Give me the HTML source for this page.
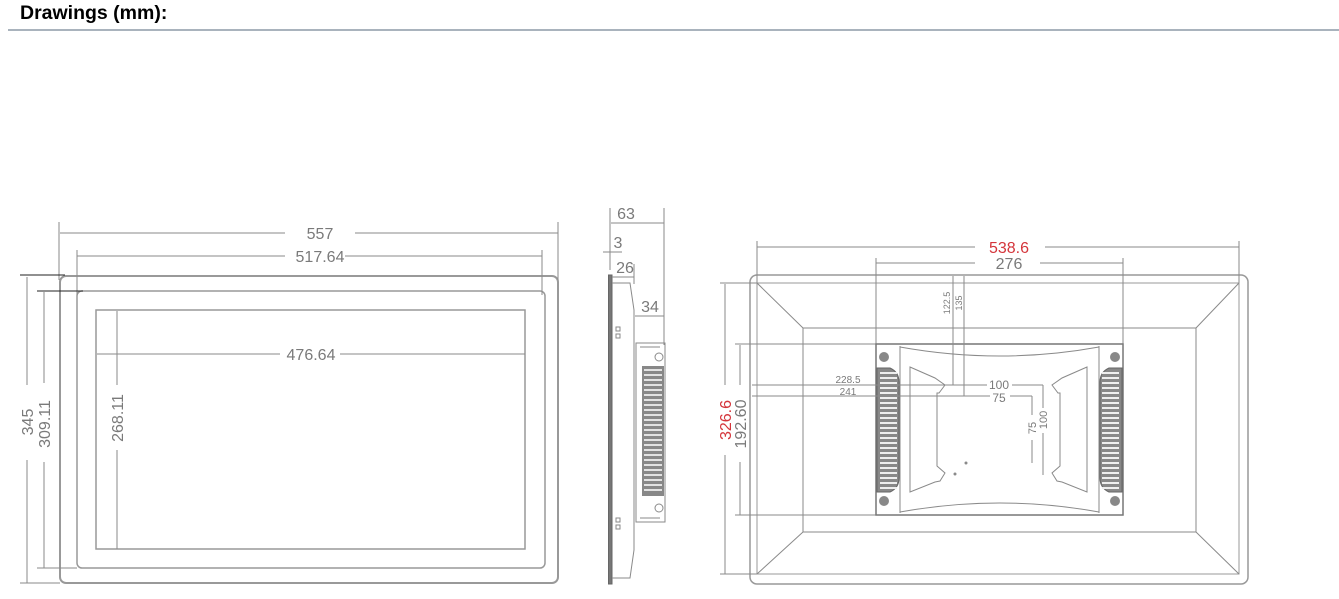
<!DOCTYPE html>
<html><head><meta charset="utf-8"><style>
body{margin:0;background:#fff;width:1339px;height:599px;overflow:hidden;font-family:"Liberation Sans",sans-serif}
.h{position:absolute;left:20px;top:2px;font-weight:bold;font-size:19.5px;line-height:22px;color:#000}
.hl{position:absolute;left:8px;right:0;top:29px;height:2px;background:#a9b3bd}
svg{position:absolute;left:0;top:0}
text{font-family:"Liberation Sans",sans-serif;fill:#7a7a7a}
</style></head><body>
<div class="h">Drawings (mm):</div><div class="hl"></div>
<svg width="1339" height="599" viewBox="0 0 1339 599">
<g stroke="#8a8a8a" stroke-width="1" fill="none">
<rect x="60" y="276" width="498" height="307" rx="6" stroke-width="2" stroke="#999"/>
<rect x="77" y="291" width="468" height="277" rx="5" stroke-width="1.5" stroke="#999"/>
<rect x="96" y="310" width="429" height="239" stroke-width="1.5" stroke="#999"/>
<line x1="59" y1="222" x2="59" y2="280"/><line x1="558" y1="222" x2="558" y2="280"/>
<line x1="60" y1="233" x2="285" y2="233"/><line x1="355" y1="233" x2="558" y2="233"/>
<line x1="77" y1="250" x2="77" y2="295"/><line x1="542" y1="250" x2="542" y2="295"/>
<line x1="77" y1="256" x2="285" y2="256"/><line x1="345" y1="256" x2="542" y2="256"/>
<line x1="97" y1="354" x2="280" y2="354"/><line x1="340" y1="354" x2="525" y2="354"/>
<line x1="117" y1="311" x2="117" y2="385"/><line x1="117" y1="450" x2="117" y2="549"/>
<line x1="27" y1="277" x2="27" y2="385"/><line x1="27" y1="460" x2="27" y2="583"/>
<line x1="44" y1="292" x2="44" y2="383"/><line x1="44" y1="462" x2="44" y2="568"/>
<line x1="20" y1="275" x2="65" y2="275" stroke="#222"/>
<line x1="37" y1="291" x2="83" y2="291" stroke="#222"/>
<line x1="20" y1="583" x2="60" y2="583"/><line x1="37" y1="568" x2="77" y2="568"/>
<rect x="608.5" y="275" width="3.5" height="309" fill="#777" stroke="#666"/>
<path d="M612 283 L630 283 L634 310 L634 550 L630 578 L612 578"/>
<line x1="610" y1="208" x2="610" y2="270"/><line x1="664" y1="208" x2="664" y2="345"/>
<line x1="611" y1="223" x2="664" y2="223"/>
<line x1="603" y1="252" x2="622" y2="252"/>
<line x1="612" y1="277" x2="634" y2="277"/><line x1="634" y1="264" x2="634" y2="284"/>
<line x1="635" y1="316" x2="664" y2="316"/>
<path d="M636 343 L665 343 L665 522 L636 522 Z"/>
<path d="M640 347 L660 347 M640 518 L660 518"/>
<circle cx="659" cy="357" r="4"/><circle cx="659" cy="508" r="4"/>
<rect x="616" y="327" width="4" height="4"/><rect x="616" y="334" width="4" height="4"/>
<rect x="616" y="518" width="4" height="4"/><rect x="616" y="525" width="4" height="4"/>
<rect x="750" y="275" width="498" height="309" rx="7" stroke-width="1.5" stroke="#999"/>
<rect x="757" y="283" width="482" height="291" stroke="#999"/>
<rect x="803" y="328" width="393" height="204"/>
<line x1="757" y1="283" x2="803" y2="328"/><line x1="1239" y1="283" x2="1196" y2="328"/>
<line x1="757" y1="574" x2="803" y2="532"/><line x1="1239" y1="574" x2="1196" y2="532"/>
<line x1="757" y1="241" x2="757" y2="283"/><line x1="1239" y1="241" x2="1239" y2="283"/>
<line x1="757" y1="247" x2="975" y2="247"/><line x1="1045" y1="247" x2="1239" y2="247"/>
<line x1="876" y1="258" x2="876" y2="515"/><line x1="1123" y1="258" x2="1123" y2="515"/>
<line x1="876" y1="263" x2="975" y2="263"/><line x1="1040" y1="263" x2="1123" y2="263"/>
<line x1="720" y1="283" x2="757" y2="283"/><line x1="720" y1="574" x2="757" y2="574"/>
<line x1="725" y1="284" x2="725" y2="385"/><line x1="725" y1="455" x2="725" y2="574"/>
<line x1="735" y1="344" x2="876" y2="344"/><line x1="735" y1="515" x2="876" y2="515"/>
<line x1="740" y1="345" x2="740" y2="385"/><line x1="740" y1="462" x2="740" y2="515"/>
<rect x="876" y="344" width="247" height="171" stroke-width="1.5" stroke="#777"/>
<line x1="900" y1="346" x2="900" y2="513"/><line x1="1099" y1="346" x2="1099" y2="513"/>
<path d="M900 347 Q1000 365 1099 347"/><path d="M900 512 Q1000 494 1099 512"/>
<circle cx="884" cy="357" r="4.5" fill="#888"/><circle cx="1115" cy="357" r="4.5" fill="#888"/>
<circle cx="884" cy="501" r="4.5" fill="#888"/><circle cx="1115" cy="501" r="4.5" fill="#888"/>
<path d="M877 368 L890 368 Q899 372 899 382 L899 478 Q899 488 890 492 L877 492 Z" fill="#888" stroke="#666"/>
<path d="M1122 368 L1109 368 Q1100 372 1100 382 L1100 478 Q1100 488 1109 492 L1122 492 Z" fill="#888" stroke="#666"/>
<path d="M910 367 L935 378 L945 385 L939 393 L937 393 L937 466 L945 473 L940 481 L935 482 L910 492 Z"/>
<path d="M1087 367 L1062 378 L1052 385 L1058 393 L1060 393 L1060 466 L1052 473 L1057 481 L1062 482 L1087 492 Z"/>
<line x1="953" y1="276" x2="953" y2="385"/><line x1="964" y1="276" x2="964" y2="396"/>
<line x1="752" y1="385" x2="953" y2="385"/><line x1="953" y1="385" x2="987" y2="385"/><line x1="1012" y1="385" x2="1043" y2="385"/>
<line x1="752" y1="396" x2="964" y2="396"/><line x1="964" y1="396" x2="990" y2="396"/><line x1="1010" y1="396" x2="1032" y2="396"/>
<line x1="1043" y1="385" x2="1043" y2="408"/><line x1="1043" y1="433" x2="1043" y2="475"/>
<line x1="1032" y1="396" x2="1032" y2="415"/><line x1="1032" y1="440" x2="1032" y2="463"/>
<circle cx="966" cy="463" r="1" fill="#888"/><circle cx="955" cy="474" r="1" fill="#888"/>
</g>
<g stroke="#eee" stroke-width="2">
<path d="M880 373h17M880 378h17M880 383h17M880 388h17M880 393h17M880 398h17M880 403h17M880 408h17M880 413h17M880 418h17M880 423h17M880 428h17M880 433h17M880 438h17M880 443h17M880 448h17M880 453h17M880 458h17M880 463h17M880 468h17M880 473h17M880 478h17M880 483h17M880 488h17"/>
<path d="M1102 373h17M1102 378h17M1102 383h17M1102 388h17M1102 393h17M1102 398h17M1102 403h17M1102 408h17M1102 413h17M1102 418h17M1102 423h17M1102 428h17M1102 433h17M1102 438h17M1102 443h17M1102 448h17M1102 453h17M1102 458h17M1102 463h17M1102 468h17M1102 473h17M1102 478h17M1102 483h17M1102 488h17"/>
</g>
<rect x="642" y="366" width="22" height="130" fill="#888"/>
<g stroke="#eee" stroke-width="1.8"><path d="M644 370h18M644 375h18M644 380h18M644 385h18M644 390h18M644 395h18M644 400h18M644 405h18M644 410h18M644 415h18M644 420h18M644 425h18M644 430h18M644 435h18M644 440h18M644 445h18M644 450h18M644 455h18M644 460h18M644 465h18M644 470h18M644 475h18M644 480h18M644 485h18M644 490h18"/></g>
<g font-size="16" text-anchor="middle">
<text x="320" y="239">557</text>
<text x="320" y="262">517.64</text>
<text x="311" y="360">476.64</text>
<text transform="translate(123,418) rotate(-90)">268.11</text>
<text transform="translate(33,422) rotate(-90)">345</text>
<text transform="translate(50,424) rotate(-90)">309.11</text>
<text x="626" y="219">63</text>
<text x="618" y="248">3</text>
<text x="625" y="273">26</text>
<text x="650" y="312">34</text>
<text x="1009" y="253" style="fill:#d4353b">538.6</text>
<text x="1009" y="269">276</text>
<text transform="translate(731,420) rotate(-90)" style="fill:#d4353b">326.6</text>
<text transform="translate(746,424) rotate(-90)">192.60</text>
</g>
<g font-size="10" text-anchor="middle">
<text x="848" y="383">228.5</text>
<text x="848" y="395">241</text>
<text x="999" y="389" font-size="12">100</text>
<text x="999" y="402" font-size="12">75</text>
<text transform="translate(950,303) rotate(-90)" font-size="9">122.5</text>
<text transform="translate(962,303) rotate(-90)" font-size="9">135</text>
<text transform="translate(1047,420) rotate(-90)" font-size="11">100</text>
<text transform="translate(1036,428) rotate(-90)" font-size="11">75</text>
</g>
</svg>
</body></html>
